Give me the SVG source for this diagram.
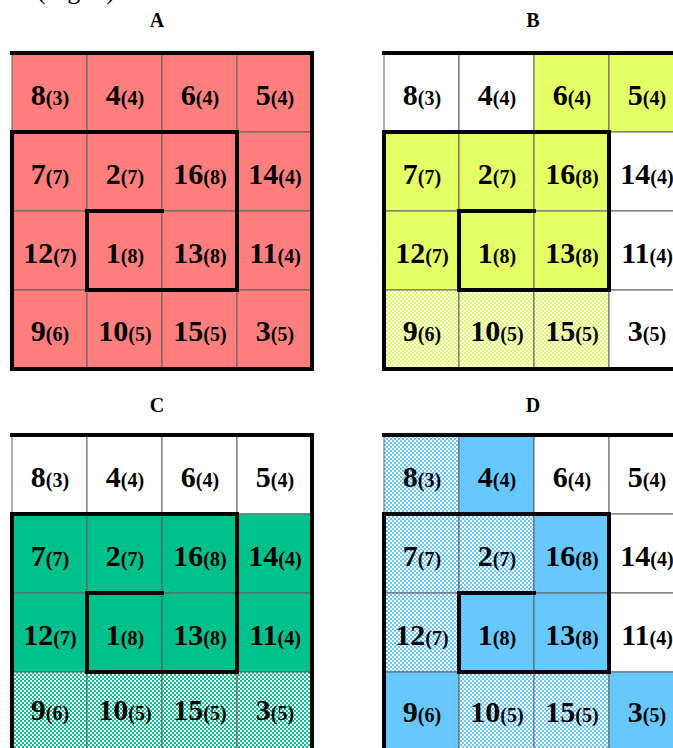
<svg xmlns="http://www.w3.org/2000/svg" width="673" height="748" viewBox="0 0 673 748">
<defs>
<pattern id="chkY" width="4" height="4" patternUnits="userSpaceOnUse"><rect width="4" height="4" fill="#ffffff"/><rect width="2" height="2" fill="#e3fb5e"/><rect x="2" y="2" width="2" height="2" fill="#e3fb5e"/></pattern>
<pattern id="chkG" width="4" height="4" patternUnits="userSpaceOnUse"><rect width="4" height="4" fill="#ffffff"/><rect width="2" height="2" fill="#00bf8c"/><rect x="2" y="2" width="2" height="2" fill="#00bf8c"/></pattern>
<pattern id="chkB" width="4" height="4" patternUnits="userSpaceOnUse"><rect width="4" height="4" fill="#ffffff"/><rect width="2" height="2" fill="#66c8ff"/><rect x="2" y="2" width="2" height="2" fill="#66c8ff"/></pattern>
</defs>
<style>
text{font-family:"Liberation Serif","Times New Roman",serif;font-weight:bold;fill:#000}
.c text{text-anchor:middle}
.b{font-size:30px}
.s{font-size:20px}
.lbl{font-size:20px;text-anchor:middle}
.cell{stroke:#606060;stroke-width:1}
.w{fill:#ffffff}
.r{fill:#ff7f7f}
.y{fill:#e5ff66}
.g{fill:#00c08b}
.u{fill:#66c8ff}
.yc{fill:url(#chkY)}
.gc{fill:url(#chkG)}
.uc{fill:url(#chkB)}
.thick{fill:none;stroke:#000;stroke-width:4;stroke-linecap:square;stroke-linejoin:miter}
</style>
<text x="37" y="-1" style="font-size:26px;font-weight:normal">(Fig. 4).</text>
<text class="lbl" x="157" y="27">A</text>
<text class="lbl" x="533" y="27">B</text>
<text class="lbl" x="157" y="412">C</text>
<text class="lbl" x="533" y="412">D</text>

<g id="panelA" class="c">
<rect class="cell r" x="12" y="53" width="75" height="79"/><rect class="cell r" x="87" y="53" width="75" height="79"/><rect class="cell r" x="162" y="53" width="75" height="79"/><rect class="cell r" x="237" y="53" width="75" height="79"/>
<rect class="cell r" x="12" y="132" width="75" height="79"/><rect class="cell r" x="87" y="132" width="75" height="79"/><rect class="cell r" x="162" y="132" width="75" height="79"/><rect class="cell r" x="237" y="132" width="75" height="79"/>
<rect class="cell r" x="12" y="211" width="75" height="79"/><rect class="cell r" x="87" y="211" width="75" height="79"/><rect class="cell r" x="162" y="211" width="75" height="79"/><rect class="cell r" x="237" y="211" width="75" height="79"/>
<rect class="cell r" x="12" y="290" width="75" height="79"/><rect class="cell r" x="87" y="290" width="75" height="79"/><rect class="cell r" x="162" y="290" width="75" height="79"/><rect class="cell r" x="237" y="290" width="75" height="79"/>
<text x="50" y="105"><tspan class="b">8</tspan><tspan class="s">(3)</tspan></text>
<text x="125" y="105"><tspan class="b">4</tspan><tspan class="s">(4)</tspan></text>
<text x="200" y="105"><tspan class="b">6</tspan><tspan class="s">(4)</tspan></text>
<text x="275" y="105"><tspan class="b">5</tspan><tspan class="s">(4)</tspan></text>
<text x="50" y="184"><tspan class="b">7</tspan><tspan class="s">(7)</tspan></text>
<text x="125" y="184"><tspan class="b">2</tspan><tspan class="s">(7)</tspan></text>
<text x="200" y="184"><tspan class="b">16</tspan><tspan class="s">(8)</tspan></text>
<text x="275" y="184"><tspan class="b">14</tspan><tspan class="s">(4)</tspan></text>
<text x="50" y="263"><tspan class="b">12</tspan><tspan class="s">(7)</tspan></text>
<text x="125" y="263"><tspan class="b">1</tspan><tspan class="s">(8)</tspan></text>
<text x="200" y="263"><tspan class="b">13</tspan><tspan class="s">(8)</tspan></text>
<text x="275" y="263"><tspan class="b">11</tspan><tspan class="s">(4)</tspan></text>
<text x="50" y="341"><tspan class="b">9</tspan><tspan class="s">(6)</tspan></text>
<text x="125" y="341"><tspan class="b">10</tspan><tspan class="s">(5)</tspan></text>
<text x="200" y="341"><tspan class="b">15</tspan><tspan class="s">(5)</tspan></text>
<text x="275" y="341"><tspan class="b">3</tspan><tspan class="s">(5)</tspan></text>
</g>

<g id="panelB" class="c">
<rect class="cell w" x="384" y="53" width="75" height="79"/><rect class="cell w" x="459" y="53" width="75" height="79"/><rect class="cell y" x="534" y="53" width="75" height="79"/><rect class="cell y" x="609" y="53" width="75" height="79"/>
<rect class="cell y" x="384" y="132" width="75" height="79"/><rect class="cell y" x="459" y="132" width="75" height="79"/><rect class="cell y" x="534" y="132" width="75" height="79"/><rect class="cell w" x="609" y="132" width="75" height="79"/>
<rect class="cell y" x="384" y="211" width="75" height="79"/><rect class="cell y" x="459" y="211" width="75" height="79"/><rect class="cell y" x="534" y="211" width="75" height="79"/><rect class="cell w" x="609" y="211" width="75" height="79"/>
<rect class="cell yc" x="384" y="290" width="75" height="79"/><rect class="cell yc" x="459" y="290" width="75" height="79"/><rect class="cell yc" x="534" y="290" width="75" height="79"/><rect class="cell w" x="609" y="290" width="75" height="79"/>
<text x="422" y="105"><tspan class="b">8</tspan><tspan class="s">(3)</tspan></text>
<text x="497" y="105"><tspan class="b">4</tspan><tspan class="s">(4)</tspan></text>
<text x="572" y="105"><tspan class="b">6</tspan><tspan class="s">(4)</tspan></text>
<text x="647" y="105"><tspan class="b">5</tspan><tspan class="s">(4)</tspan></text>
<text x="422" y="184"><tspan class="b">7</tspan><tspan class="s">(7)</tspan></text>
<text x="497" y="184"><tspan class="b">2</tspan><tspan class="s">(7)</tspan></text>
<text x="572" y="184"><tspan class="b">16</tspan><tspan class="s">(8)</tspan></text>
<text x="647" y="184"><tspan class="b">14</tspan><tspan class="s">(4)</tspan></text>
<text x="422" y="263"><tspan class="b">12</tspan><tspan class="s">(7)</tspan></text>
<text x="497" y="263"><tspan class="b">1</tspan><tspan class="s">(8)</tspan></text>
<text x="572" y="263"><tspan class="b">13</tspan><tspan class="s">(8)</tspan></text>
<text x="647" y="263"><tspan class="b">11</tspan><tspan class="s">(4)</tspan></text>
<text x="422" y="341"><tspan class="b">9</tspan><tspan class="s">(6)</tspan></text>
<text x="497" y="341"><tspan class="b">10</tspan><tspan class="s">(5)</tspan></text>
<text x="572" y="341"><tspan class="b">15</tspan><tspan class="s">(5)</tspan></text>
<text x="647" y="341"><tspan class="b">3</tspan><tspan class="s">(5)</tspan></text>
</g>

<g id="panelC" class="c">
<rect class="cell w" x="12" y="435" width="75" height="79"/><rect class="cell w" x="87" y="435" width="75" height="79"/><rect class="cell w" x="162" y="435" width="75" height="79"/><rect class="cell w" x="237" y="435" width="75" height="79"/>
<rect class="cell g" x="12" y="514" width="75" height="79"/><rect class="cell g" x="87" y="514" width="75" height="79"/><rect class="cell g" x="162" y="514" width="75" height="79"/><rect class="cell g" x="237" y="514" width="75" height="79"/>
<rect class="cell g" x="12" y="593" width="75" height="79"/><rect class="cell g" x="87" y="593" width="75" height="79"/><rect class="cell g" x="162" y="593" width="75" height="79"/><rect class="cell g" x="237" y="593" width="75" height="79"/>
<rect class="cell gc" x="12" y="672" width="75" height="79"/><rect class="cell gc" x="87" y="672" width="75" height="79"/><rect class="cell gc" x="162" y="672" width="75" height="79"/><rect class="cell gc" x="237" y="672" width="75" height="79"/>
<text x="50" y="487"><tspan class="b">8</tspan><tspan class="s">(3)</tspan></text>
<text x="125" y="487"><tspan class="b">4</tspan><tspan class="s">(4)</tspan></text>
<text x="200" y="487"><tspan class="b">6</tspan><tspan class="s">(4)</tspan></text>
<text x="275" y="487"><tspan class="b">5</tspan><tspan class="s">(4)</tspan></text>
<text x="50" y="566"><tspan class="b">7</tspan><tspan class="s">(7)</tspan></text>
<text x="125" y="566"><tspan class="b">2</tspan><tspan class="s">(7)</tspan></text>
<text x="200" y="566"><tspan class="b">16</tspan><tspan class="s">(8)</tspan></text>
<text x="275" y="566"><tspan class="b">14</tspan><tspan class="s">(4)</tspan></text>
<text x="50" y="645"><tspan class="b">12</tspan><tspan class="s">(7)</tspan></text>
<text x="125" y="645"><tspan class="b">1</tspan><tspan class="s">(8)</tspan></text>
<text x="200" y="645"><tspan class="b">13</tspan><tspan class="s">(8)</tspan></text>
<text x="275" y="645"><tspan class="b">11</tspan><tspan class="s">(4)</tspan></text>
<text x="50" y="720"><tspan class="b">9</tspan><tspan class="s">(6)</tspan></text>
<text x="125" y="720"><tspan class="b">10</tspan><tspan class="s">(5)</tspan></text>
<text x="200" y="720"><tspan class="b">15</tspan><tspan class="s">(5)</tspan></text>
<text x="275" y="720"><tspan class="b">3</tspan><tspan class="s">(5)</tspan></text>
</g>

<g id="panelD" class="c">
<rect class="cell uc" x="384" y="435" width="75" height="79"/><rect class="cell u" x="459" y="435" width="75" height="79"/><rect class="cell w" x="534" y="435" width="75" height="79"/><rect class="cell w" x="609" y="435" width="75" height="79"/>
<rect class="cell uc" x="384" y="514" width="75" height="79"/><rect class="cell uc" x="459" y="514" width="75" height="79"/><rect class="cell u" x="534" y="514" width="75" height="79"/><rect class="cell w" x="609" y="514" width="75" height="79"/>
<rect class="cell uc" x="384" y="593" width="75" height="79"/><rect class="cell u" x="459" y="593" width="75" height="79"/><rect class="cell u" x="534" y="593" width="75" height="79"/><rect class="cell w" x="609" y="593" width="75" height="79"/>
<rect class="cell u" x="384" y="672" width="75" height="79"/><rect class="cell uc" x="459" y="672" width="75" height="79"/><rect class="cell uc" x="534" y="672" width="75" height="79"/><rect class="cell u" x="609" y="672" width="75" height="79"/>
<text x="422" y="487"><tspan class="b">8</tspan><tspan class="s">(3)</tspan></text>
<text x="497" y="487"><tspan class="b">4</tspan><tspan class="s">(4)</tspan></text>
<text x="572" y="487"><tspan class="b">6</tspan><tspan class="s">(4)</tspan></text>
<text x="647" y="487"><tspan class="b">5</tspan><tspan class="s">(4)</tspan></text>
<text x="422" y="566"><tspan class="b">7</tspan><tspan class="s">(7)</tspan></text>
<text x="497" y="566"><tspan class="b">2</tspan><tspan class="s">(7)</tspan></text>
<text x="572" y="566"><tspan class="b">16</tspan><tspan class="s">(8)</tspan></text>
<text x="647" y="566"><tspan class="b">14</tspan><tspan class="s">(4)</tspan></text>
<text x="422" y="645"><tspan class="b">12</tspan><tspan class="s">(7)</tspan></text>
<text x="497" y="645"><tspan class="b">1</tspan><tspan class="s">(8)</tspan></text>
<text x="572" y="645"><tspan class="b">13</tspan><tspan class="s">(8)</tspan></text>
<text x="647" y="645"><tspan class="b">11</tspan><tspan class="s">(4)</tspan></text>
<text x="422" y="722"><tspan class="b">9</tspan><tspan class="s">(6)</tspan></text>
<text x="497" y="722"><tspan class="b">10</tspan><tspan class="s">(5)</tspan></text>
<text x="572" y="722"><tspan class="b">15</tspan><tspan class="s">(5)</tspan></text>
<text x="647" y="722"><tspan class="b">3</tspan><tspan class="s">(5)</tspan></text>
</g>

<g id="connectors">
<path class="thick" d="M12,53 H312 V369 H12 V132 H237 V290 H87 V211 H162"/>
<path class="thick" d="M384,53 H684 V369 H384 V132 H609 V290 H459 V211 H534"/>
<path class="thick" d="M12,435 H312 V751 H12 V514 H237 V672 H87 V593 H162"/>
<path class="thick" d="M384,435 H684 V751 H384 V514 H609 V672 H459 V593 H534"/>
</g>
</svg>
